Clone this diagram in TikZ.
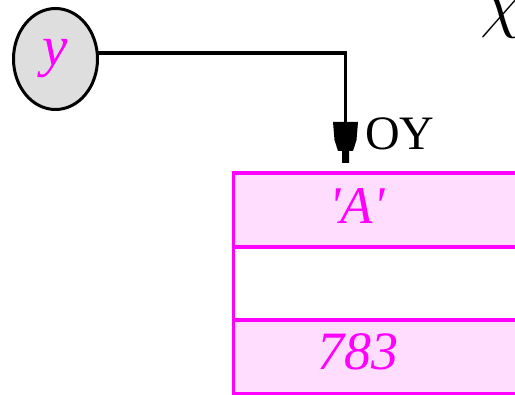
\RequirePackage{fix-cm}
\documentclass[tikz,border=0pt]{standalone}
\usepackage{fontspec}
\setmainfont{Liberation Serif}[Ligatures=TeXOff]
\usetikzlibrary{shapes.geometric}
\definecolor{mag}{RGB}{255,0,255}
\definecolor{pinkfill}{RGB}{255,221,255}
\definecolor{circfill}{RGB}{222,222,222}
\tikzset{
  every node/.style={inner sep=0pt, outer sep=0pt},
  varnode/.style={ellipse, draw=black, line width=3pt, fill=circfill, minimum width=84pt, minimum height=101pt, text=mag, font=\fontsize{57}{57}\selectfont\itshape},
  cellbox/.style={rectangle, draw=mag, line width=3.5pt, minimum width=300pt, anchor=north west},
  celltext/.style={text=mag, font=\fontsize{53}{53}\selectfont\itshape},
  conn/.style={line width=3.2pt, black},
  tiplbl/.style={font=\fontsize{48}{48}\selectfont, text=black, anchor=base west}
}
\begin{document}
\begin{tikzpicture}[x=1pt,y=-1pt]
\useasboundingbox (0,0) rectangle (515,395);
\clip (0,0) rectangle (515,395);
% table rows
\node[cellbox, fill=pinkfill, minimum height=74pt] (r1) at (233.5,173) {};
\node[cellbox, fill=white, minimum height=73pt] (r2) at (233.5,247) {};
\node[cellbox, fill=pinkfill, minimum height=73.5pt] (r3) at (233.5,320) {};
\node[celltext] (ta) at (357,206) {'A'};
\node[celltext, font=\fontsize{54}{54}\selectfont\itshape] (t783) at (358,351.5) {783};
% variable
\node[varnode] (y) at (55.5,59) {y};
% connector
\coordinate (tip) at (345.5,163);
\draw[conn] ([yshift=6pt]y.east) -| (tip);
\fill[black] (tip) ++(-12.5,-41) -- ++(25,0) -- ++(-1.5,18) -- ++(-3.5,11) -- ++(-4,0) -- ++(0,12) -- ++(-7,0) -- ++(0,-12) -- ++(-4,0) -- ++(-3.5,-11) -- cycle;
\node[tiplbl] (oy) at (365,150) {OY};
% chi
\node[font=\fontsize{70}{70}\selectfont, text=black, anchor=base west] (chi) at (480,25) {$\chi$};
\end{tikzpicture}
\end{document}
